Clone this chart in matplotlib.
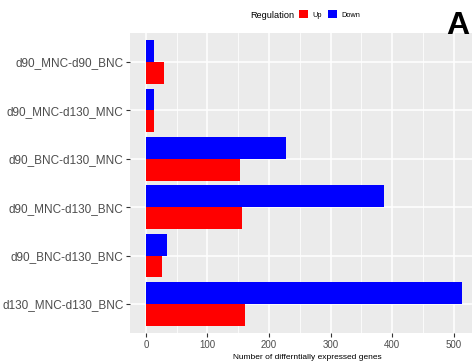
import matplotlib
matplotlib.use("Agg")
import matplotlib.pyplot as plt
import matplotlib.patches as patches
import numpy as np

plt.rcParams['font.family'] = ['Liberation Sans', 'DejaVu Sans']

# data (top to bottom as shown)
comparisons = ["d90_MNC-d90_BNC", "d90_MNC-d130_MNC", "d90_BNC-d130_MNC",
               "d90_MNC-d130_BNC", "d90_BNC-d130_BNC", "d130_MNC-d130_BNC"]
up_counts = [30, 13, 153, 156, 26, 161]
down_counts = [13, 13, 228, 386, 35, 514]
x_ticks = [0, 100, 200, 300, 400, 500]

W, H = 472, 362
fig = plt.figure(figsize=(W / 100, H / 100), dpi=100)
fig.patch.set_facecolor("white")

# panel: grey background, right edge runs past the image edge (cropped)
x_min = -0.05 * max(down_counts)
x_max = max(down_counts) * 1.05
px_per_unit = 0.627
left_px, top_px, bottom_px = 130, 33, 333
width_px = (x_max - x_min) * px_per_unit
ax = fig.add_axes([left_px / W, (H - bottom_px) / H,
                   width_px / W, (bottom_px - top_px) / H])
ax.set_facecolor("#EBEBEB")
for s in ax.spines.values():
    s.set_visible(False)

n = len(comparisons)
ypos = np.arange(n)[::-1]
bh = 0.45
ax.barh(ypos - bh / 2, up_counts, height=bh, color="#FF0000", zorder=3, label="Up")
ax.barh(ypos + bh / 2, down_counts, height=bh, color="#0000FF", zorder=3, label="Down")

ax.set_xlim(x_min, x_max)
ax.set_ylim(-0.6, n - 1 + 0.6)
ax.set_xticks(x_ticks)
ax.set_xticks([50, 150, 250, 350, 450, 550], minor=True)
ax.set_yticks(ypos)
ax.set_yticklabels(comparisons)

ax.grid(which="major", color="white", linewidth=1.1, zorder=0)
ax.grid(which="minor", axis="x", color="white", linewidth=0.55, zorder=0)
ax.set_axisbelow(True)

ax.tick_params(axis="y", which="major", labelsize=8.5, labelcolor="#4D4D4D",
               color="#333333", length=2.75, width=0.8, pad=2)
ax.tick_params(axis="x", which="major", labelsize=7, labelcolor="#4D4D4D",
               color="#333333", length=2.75, width=0.8, pad=2)
ax.tick_params(axis="x", which="minor", length=0)

ax.set_xlabel("Number of differntially expressed genes", fontsize=6, labelpad=3)

# legend on top
fig.text(250 / W, 1 - 15 / H, "Regulation", fontsize=6.6, ha="left", va="center")
handles = [patches.Patch(facecolor="#FF0000", edgecolor="none", label="Up"),
           patches.Patch(facecolor="#0000FF", edgecolor="none", label="Down")]
fig.legend(handles=handles, loc="center left", bbox_to_anchor=(299 / W, 1 - 14.5 / H),
           ncol=2, frameon=False, fontsize=5.3, handlelength=1.25, handleheight=1.25,
           handletextpad=0.6, columnspacing=0.8, borderpad=0, borderaxespad=0)

fig.text(469 / W, 1 - 26 / H, "A", fontsize=23, fontweight="bold", ha="right", va="center")

fig.savefig("out.png", dpi=100)
